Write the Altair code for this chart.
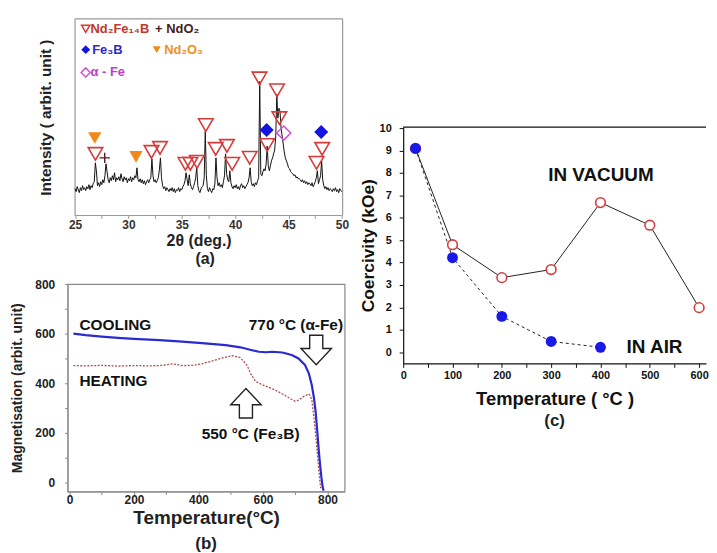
import altair as alt
import pandas as pd

FONT = "Liberation Sans"

# ---------------- panel (a): XRD pattern ----------------
xrd_intensity = [
    27, 24, 29, 26, 23, 28, 25, 30, 26, 28,    # 25.x
    25, 29, 27, 31, 26, 30, 28, 32, 34, 53,    # 26.x
    45, 30, 33, 29, 34, 31, 36, 33, 40, 52,    # 27.x
    44, 36, 33, 38, 35, 40, 36, 43, 34, 38,    # 28.x
    36, 39, 35, 42, 37, 34, 39, 36, 38, 33,    # 29.x
    37, 35, 39, 34, 38, 36, 40, 38, 48, 36,    # 30.x
    34, 37, 33, 36, 32, 35, 31, 34, 36, 33,    # 31.x
    36, 38, 57, 40, 34, 36, 33, 35, 38, 46,    # 32.x
    58, 38, 30, 27, 29, 25, 28, 26, 24, 27,    # 33.x
    25, 28, 24, 27, 23, 26, 25, 28, 24, 27,    # 34.x
    26, 29, 31, 35, 43, 36, 30, 41, 32, 28,    # 35.x
    26, 29, 33, 38, 48, 30, 25, 23, 27, 29,    # 36.x
    30, 38, 85, 40, 27, 24, 28, 25, 23, 27,    # 37.x
    26, 32, 58, 38, 30, 33, 29, 31, 28, 34,    # 38.x
    40, 62, 42, 36, 34, 45, 33, 29, 27, 30,    # 39.x
    28, 31, 27, 29, 26, 30, 32, 28, 30, 27,    # 40.x
    29, 31, 33, 38, 48, 34, 30, 32, 29, 33,    # 41.x
    31, 35, 38, 135, 42, 40, 44, 47, 45, 52,   # 42.x
    70, 50, 45, 50, 55, 58, 62, 66, 80, 122,   # 43.x
    98, 108, 105, 88, 80, 72, 64, 58, 55, 52,  # 44.x
    48, 47, 44, 43, 42, 40, 41, 38, 39, 37,    # 45.x
    37, 36, 34, 36, 33, 35, 32, 34, 31, 33,    # 46.x
    32, 30, 33, 29, 31, 34, 38, 45, 32, 36,    # 47.x
    40, 55, 36, 30, 27, 29, 26, 28, 25, 27,    # 48.x
    26, 24, 27, 25, 28, 24, 26, 23, 27, 25,    # 49.x
    24,                                         # 50.0
]
xrd_angle = [round(25.0 + 0.1 * i, 1) for i in range(len(xrd_intensity))]

nfb_x = [26.91, 32.16, 32.96, 35.34, 35.80, 36.42, 37.25, 38.18, 39.23, 39.72,
         41.36, 42.28, 43.92, 44.14, 43.00, 47.62, 48.15]
nfb_y = [62, 64, 68, 52, 52, 54, 91, 67, 70, 52, 58, 138, 126, 98, 71, 53, 67]
nd2o3_x = [26.85, 30.71]
nd2o3_y = [78, 59]
fe3b_x = [42.95, 48.06]
fe3b_y = [86, 84]
afe_x = [44.55]
afe_y = [83]
ndo2_x = [27.78]
ndo2_y = [58]

leg_sym_x = [26.0, 26.0, 32.65, 26.0]
leg_sym_y = [188, 167, 167, 144]
leg_sym_kind = ["nfb", "fe3b", "nd2o3", "afe"]
leg_txt = ["Nd₂Fe₁₄B", "+ NdO₂", "Fe₃B", "Nd₂O₃", "α  - Fe"]
leg_txt_x = [26.45, 32.5, 26.6, 33.35, 26.45]
leg_txt_y = [188, 188, 167, 167, 144]
leg_txt_col = ["#c0392b", "#4a1c1c", "#2b2bc8", "#f0901e", "#c040c8"]

# ---------------- panel (b): thermomagnetic curves ----------------
cool_T = [12, 50, 100, 150, 200, 279, 350, 420, 484, 530, 560, 587, 610, 628, 660, 689,
          710, 730, 742, 751, 758, 763, 769, 773, 777, 781, 785, 788]
cool_M = [600, 594, 588, 583, 579, 574, 568, 561, 554, 545, 535, 527, 525, 527, 524, 514,
          500, 474, 440, 394, 340, 287, 193, 126, 70, 20, -20, -35]
heat_T = [12, 50, 100, 150, 200, 250, 290, 320, 350, 382, 410, 443, 475, 505, 530, 551,
          561, 577, 600, 628, 650, 669, 688, 700, 712, 725, 741, 747, 752, 759, 766, 771, 775, 779]
heat_M = [471, 470, 472, 469, 471, 470, 472, 478, 471, 472, 478, 490, 502, 511, 503, 471,
          440, 407, 392, 378, 364, 350, 335, 327, 332, 345, 356, 350, 327, 247, 153, 80, 20, -25]

b_txt = ["COOLING", "HEATING", "770 °C (α-Fe)", "550 °C (Fe₃B)"]
b_txt_x = [31, 31, 556, 410]
b_txt_y = [634, 407, 634, 193]
arrow_x = [765, 547]
arrow_y = [534, 319]
arrow_dir = ["down", "up"]

# ---------------- panel (c): coercivity ----------------
vac_T = [25, 100, 200, 300, 400, 500, 600]
vac_H = [9.1, 4.8, 3.33, 3.69, 6.68, 5.67, 1.99]
air_T = [25, 100, 200, 300, 400]
air_H = [9.1, 4.22, 1.6, 0.48, 0.22]
c_txt = ["IN VACUUM", "IN AIR"]
c_txt_x = [294, 453]
c_txt_y = [7.89, 0.25]


def pts(xs, ys):
    return pd.DataFrame({"x": xs, "y": ys})


# ================= build panel (a) =================
A_GRAY = "#9a9a9a"
A_XMIN, A_XMAX, A_YMAX = 24.30, 50.065, 198
a_xscale = alt.Scale(domain=[A_XMIN, A_XMAX], nice=False, zero=False)
a_yscale = alt.Scale(domain=[0, A_YMAX], nice=False, zero=False)
a_x = alt.X("x:Q", scale=a_xscale,
            axis=alt.Axis(values=[25, 27.5, 30, 32.5, 35, 37.5, 40, 42.5, 45, 47.5, 50],
                          labelExpr="datum.value % 5 == 0 ? datum.label : ''",
                          title="2θ  (deg.)", titleFontSize=16, labelFontSize=12,
                          tickSize=3, labelPadding=1, titlePadding=2, labelFlush=False,
                          labelOverlap=False, domain=False, tickColor=A_GRAY,
                          labelColor="#333", titleColor="#222", grid=False,
                          titleX=132, titleAlign="center",
                          labelFont=FONT, titleFont=FONT, labelFontWeight="bold",
                          titleFontWeight="bold"))
a_y = alt.Y("y:Q", scale=a_yscale,
            axis=alt.Axis(labels=False, ticks=False, title="Intensity ( arbit. unit )",
                          titleFontSize=15.5, titlePadding=14, domain=False,
                          titleColor="#222", grid=False, titleFont=FONT,
                          titleFontWeight="bold"))

# frame of panel (a) drawn along its data range
frame_a = pd.DataFrame({
    "x": [25, 25, 25, A_XMAX],
    "x2": [A_XMAX, A_XMAX, 25, A_XMAX],
    "y": [0, A_YMAX, 0, 0],
    "y2": [0, A_YMAX, A_YMAX, A_YMAX],
})
a_frame = alt.Chart(frame_a).mark_rule(color=A_GRAY, strokeWidth=1.2).encode(
    x=a_x, x2="x2:Q", y=a_y, y2="y2:Q")

xrd_df = pd.DataFrame({"x": xrd_angle, "y": xrd_intensity})
a_line = alt.Chart(xrd_df).mark_line(color="#111111", strokeWidth=1).encode(x=a_x, y=a_y)

a_nfb = alt.Chart(pts(nfb_x, nfb_y)).mark_point(
    shape="triangle-down", size=215, filled=False, color="#d83a3a", strokeWidth=1.6, opacity=1
).encode(x=a_x, y=a_y)
a_nd2o3 = alt.Chart(pts(nd2o3_x, nd2o3_y)).mark_point(
    shape="triangle-down", size=180, filled=True, color="#f28a1a", opacity=1
).encode(x=a_x, y=a_y)
a_fe3b = alt.Chart(pts(fe3b_x, fe3b_y)).mark_point(
    shape="diamond", size=200, filled=True, color="#1414e0", opacity=1
).encode(x=a_x, y=a_y)
a_afe = alt.Chart(pts(afe_x, afe_y)).mark_point(
    shape="diamond", size=200, filled=False, color="#d050d8", strokeWidth=1.6, opacity=1
).encode(x=a_x, y=a_y)
a_plus = alt.Chart(pts(ndo2_x, ndo2_y)).mark_point(
    shape="M-1,0L1,0M0,-1L0,1", size=110, filled=False, color="#5a1a1a", strokeWidth=1.4, opacity=1
).encode(x=a_x, y=a_y)

leg_style = {
    "nfb": dict(shape="triangle-down", filled=False, color="#d83a3a", size=70),
    "fe3b": dict(shape="diamond", filled=True, color="#1414e0", size=80),
    "nd2o3": dict(shape="triangle-down", filled=True, color="#f28a1a", size=65),
    "afe": dict(shape="diamond", filled=False, color="#d050d8", size=85),
}
a_leg_layers = []
for sx, sy, k in zip(leg_sym_x, leg_sym_y, leg_sym_kind):
    st = leg_style[k]
    a_leg_layers.append(
        alt.Chart(pts([sx], [sy])).mark_point(
            shape=st["shape"], filled=st["filled"], color=st["color"], size=st["size"],
            strokeWidth=1.5, opacity=1
        ).encode(x=a_x, y=a_y)
    )
leg_df = pd.DataFrame({"x": leg_txt_x, "y": leg_txt_y, "t": leg_txt, "c": leg_txt_col})
a_leg_text = alt.Chart(leg_df).mark_text(
    align="left", baseline="middle", font=FONT, fontSize=13, fontWeight="bold"
).encode(x=a_x, y=a_y, text="t:N", color=alt.Color("c:N", scale=None))

panel_a = alt.layer(a_frame, a_line, a_nfb, a_nd2o3, a_fe3b, a_afe, a_plus, *a_leg_layers,
                    a_leg_text).properties(
    width=277, height=198,
    title=alt.TitleParams("(a)", orient="bottom", fontSize=16, font=FONT, fontWeight="bold",
                          color="#222", offset=3),
    view=alt.ViewBackground(stroke=None),
)

# ================= build panel (b) =================
B_GRAY = "#8a8a8a"
b_xscale = alt.Scale(domain=[-6, 853], nice=False, zero=False)
b_yscale = alt.Scale(domain=[-38, 801], nice=False, zero=False)
b_x = alt.X("x:Q", scale=b_xscale,
            axis=alt.Axis(values=list(range(0, 801, 100)),
                          labelExpr="datum.value % 200 == 0 ? datum.label : ''",
                          title="Temperature(°C)", titleFontSize=19, labelFontSize=12,
                          tickSize=3, labelPadding=0, titlePadding=3, labelFlush=False,
                          labelOverlap=False, domainColor=B_GRAY, tickColor=B_GRAY,
                          labelColor="#222", titleColor="#222", grid=False,
                          labelFont=FONT, titleFont=FONT, labelFontWeight="bold",
                          titleFontWeight="bold"))
b_y = alt.Y("y:Q", scale=b_yscale,
            axis=alt.Axis(values=list(range(0, 801, 100)),
                          labelExpr="datum.value % 200 == 0 ? datum.label : ''",
                          title="Magnetisation (arbit. unit)", titleFontSize=14, labelFontSize=12,
                          tickSize=3, labelPadding=10, titlePadding=10, labelFlush=False,
                          labelOverlap=False, domainColor=B_GRAY, tickColor=B_GRAY,
                          labelColor="#222", titleColor="#222", grid=False,
                          labelFont=FONT, titleFont=FONT, labelFontWeight="bold",
                          titleFontWeight="bold"))

b_heat = alt.Chart(pd.DataFrame({"x": heat_T, "y": heat_M})).mark_line(
    color="#b04a4a", strokeWidth=1.3, strokeDash=[2, 1.5], clip=True
).encode(x=b_x, y=b_y)
b_cool = alt.Chart(pd.DataFrame({"x": cool_T, "y": cool_M})).mark_line(
    color="#2a2ad0", strokeWidth=2.2, clip=True
).encode(x=b_x, y=b_y)
b_text = alt.Chart(pd.DataFrame({"x": b_txt_x, "y": b_txt_y, "t": b_txt})).mark_text(
    align="left", baseline="middle", font=FONT, fontSize=15.5, fontWeight="bold", color="#111"
).encode(x=b_x, y=b_y, text="t:N")
down_path = "M-0.43,-0.97L0.43,-0.97L0.43,-0.1L1,-0.1L0,0.97L-1,-0.1L-0.43,-0.1Z"
up_path = "M-0.43,0.97L0.43,0.97L0.43,0.1L1,0.1L0,-0.97L-1,0.1L-0.43,0.1Z"
b_arrows = []
for ax_, ay_, d in zip(arrow_x, arrow_y, arrow_dir):
    b_arrows.append(
        alt.Chart(pts([ax_], [ay_])).mark_point(
            shape=down_path if d == "down" else up_path, size=940, filled=True,
            fill="white", stroke="#222", strokeWidth=1.4, opacity=1
        ).encode(x=b_x, y=b_y)
    )

panel_b = alt.layer(b_heat, b_cool, *b_arrows, b_text).properties(
    width=279, height=209,
    title=alt.TitleParams("(b)", orient="bottom", fontSize=17, font=FONT, fontWeight="bold",
                          color="#222", offset=9),
    view=alt.ViewBackground(stroke=B_GRAY, strokeWidth=1.2),
)

# ================= build panel (c) =================
C_XMAX, C_YMAX = 614, 10.05
c_xscale = alt.Scale(domain=[0, C_XMAX], nice=False, zero=False)
c_yscale = alt.Scale(domain=[-0.5, C_YMAX], nice=False, zero=False)
c_x = alt.X("x:Q", scale=c_xscale,
            axis=alt.Axis(values=list(range(0, 601, 50)),
                          labelExpr="datum.value % 100 == 0 ? datum.label : ''",
                          title="Temperature ( °C )", titleFontSize=18.5, labelFontSize=11,
                          tickSize=4, labelPadding=2, titlePadding=9, labelFlush=False,
                          labelOverlap=False, domainColor="#111", tickColor="#111",
                          labelColor="#111", titleColor="#111", grid=False,
                          labelFont=FONT, titleFont=FONT, labelFontWeight="bold",
                          titleFontWeight="bold", domainWidth=1.2))
c_y = alt.Y("y:Q", scale=c_yscale,
            axis=alt.Axis(values=list(range(0, 11)),
                          title="Coercivity (kOe)", titleFontSize=17.5, labelFontSize=11,
                          tickSize=4, labelPadding=8, titlePadding=2, labelFlush=False,
                          labelOverlap=False, domainColor="#111", tickColor="#111",
                          labelColor="#111", titleColor="#111", grid=False,
                          labelFont=FONT, titleFont=FONT, labelFontWeight="bold",
                          titleFontWeight="bold", domainWidth=1.2))

vac_df = pd.DataFrame({"x": vac_T, "y": vac_H})
air_df = pd.DataFrame({"x": air_T, "y": air_H})
c_border = alt.Chart(pd.DataFrame({"x": [0], "x2": [C_XMAX], "y": [C_YMAX]})).mark_rule(
    color="#111", strokeWidth=1.2).encode(x=c_x, x2="x2:Q", y=c_y)
c_vac_line = alt.Chart(vac_df).mark_line(color="#222", strokeWidth=1).encode(x=c_x, y=c_y)
c_air_line = alt.Chart(air_df).mark_line(color="#222", strokeWidth=1, strokeDash=[3, 3]).encode(x=c_x, y=c_y)
c_vac_pts = alt.Chart(vac_df).mark_point(
    shape="circle", size=95, filled=True, fill="white", stroke="#d83a3a", strokeWidth=1.6, opacity=1
).encode(x=c_x, y=c_y)
c_air_pts = alt.Chart(air_df).mark_point(
    shape="circle", size=120, filled=True, color="#1a1ae8", opacity=1
).encode(x=c_x, y=c_y)
c_text = alt.Chart(pd.DataFrame({"x": c_txt_x, "y": c_txt_y, "t": c_txt})).mark_text(
    align="left", baseline="middle", font=FONT, fontSize=19, fontWeight="bold", color="#111"
).encode(x=c_x, y=c_y, text="t:N")

panel_c = alt.layer(c_border, c_vac_line, c_air_line, c_vac_pts, c_air_pts, c_text).properties(
    width=305, height=238,
    title=alt.TitleParams("(c)", orient="bottom", fontSize=17, font=FONT, fontWeight="bold",
                          color="#222", offset=6),
    view=alt.ViewBackground(stroke=None),
)

spacer = alt.Chart(pd.DataFrame({"v": [0]})).mark_point(opacity=0).encode(
    x=alt.X("v:Q", axis=None), y=alt.Y("v:Q", axis=None)
).properties(width=10, height=101, view=alt.ViewBackground(stroke=None))

left_col = alt.vconcat(panel_a, panel_b, spacing=10)
right_col = alt.vconcat(spacer, panel_c, spacing=3)
chart = alt.hconcat(left_col, right_col, spacing=10).properties(
    padding={"left": 2, "top": 8, "right": 0, "bottom": 0}
).configure(background="white")

chart.save("out.html", embed_options={"renderer": "svg", "actions": False})
